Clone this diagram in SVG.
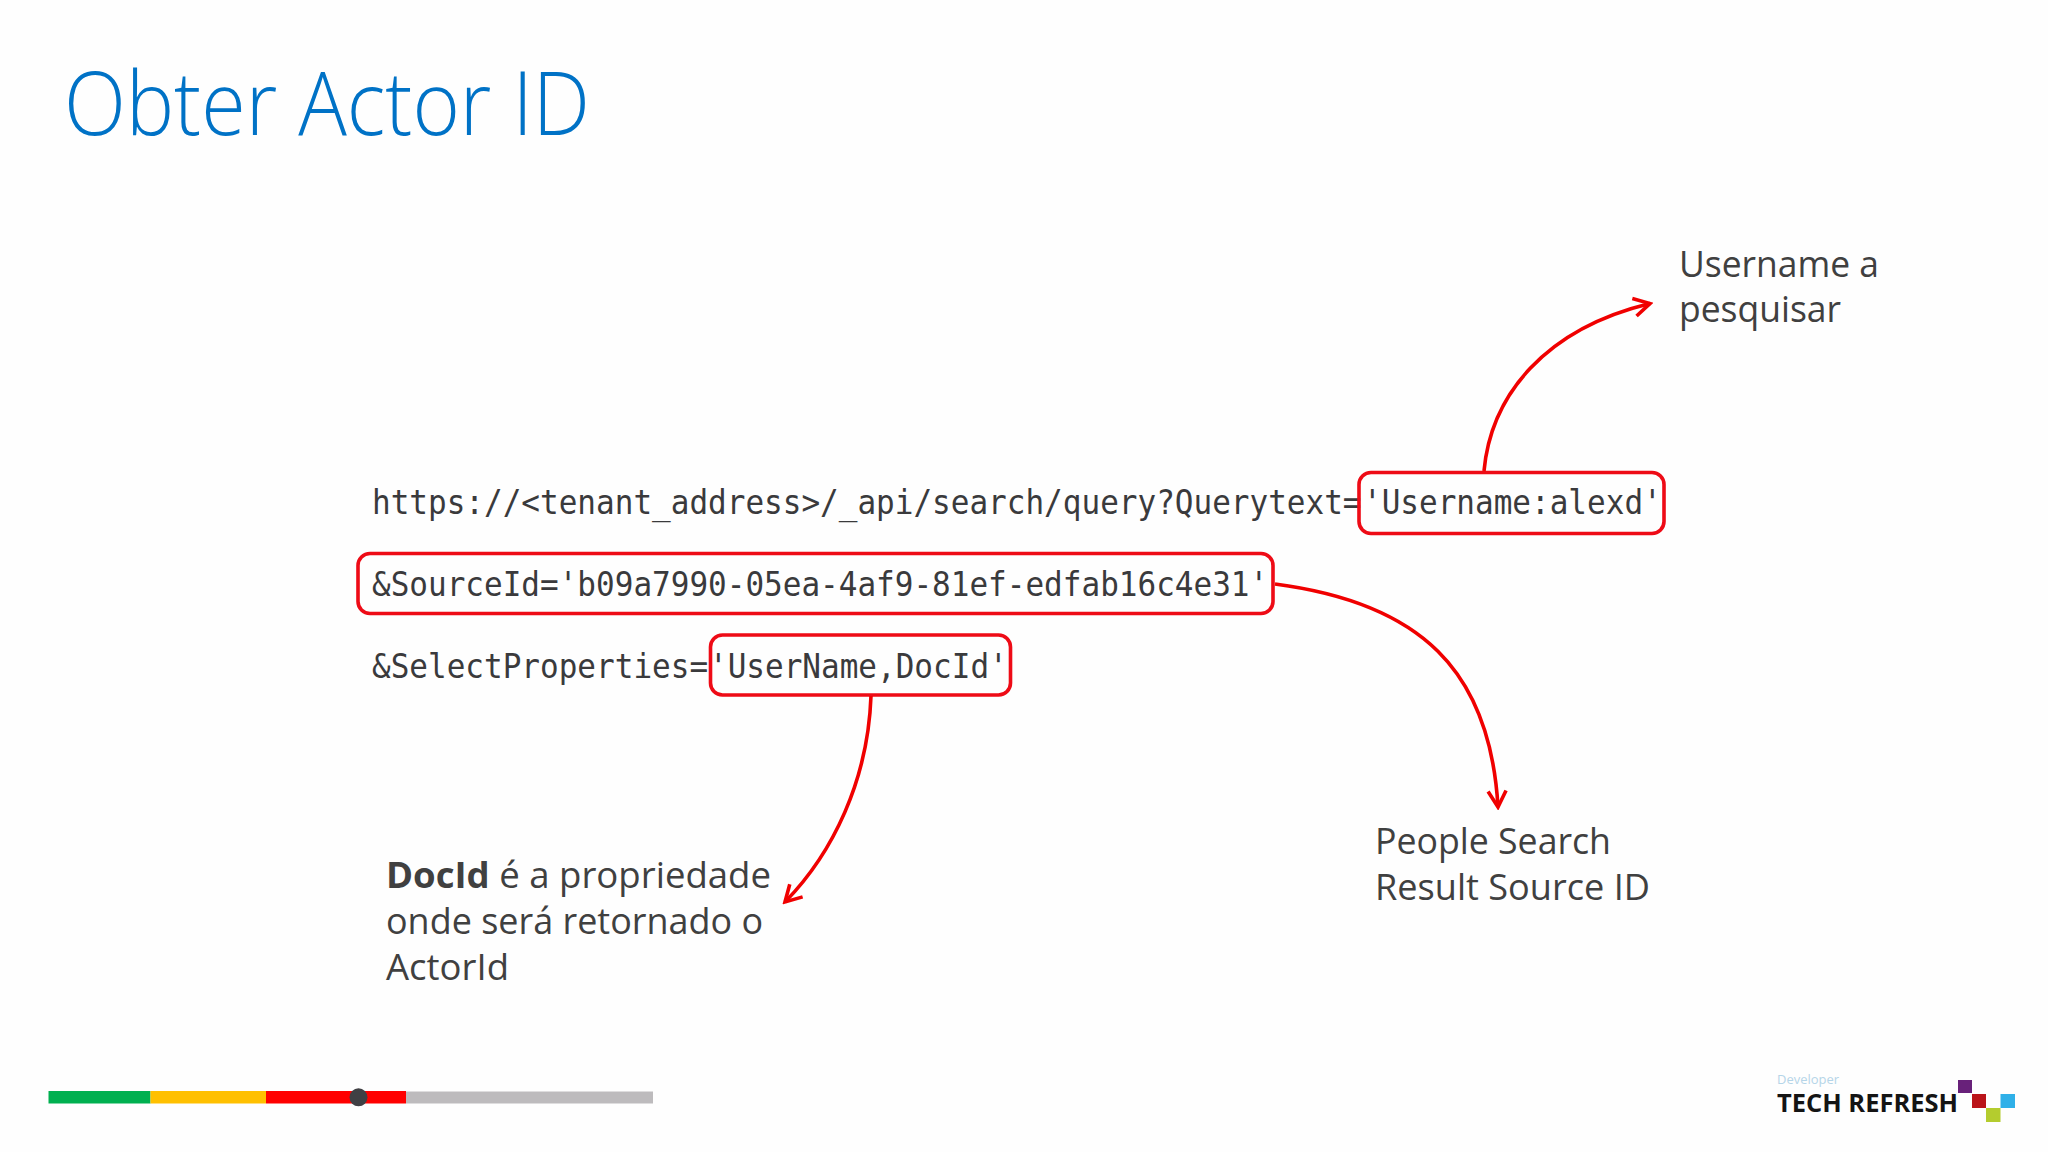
<svg xmlns="http://www.w3.org/2000/svg" width="2048" height="1152" viewBox="0 0 2048 1152">
<defs>
<marker id="arr" viewBox="0 0 24 24" refX="21" refY="12" markerWidth="24" markerHeight="24" markerUnits="userSpaceOnUse" orient="auto"><path d="M5 3 L21 12 L5 21" fill="none" stroke="#f00000" stroke-width="3.6"/></marker>
</defs>
<style>
.code{font-family:"DejaVu Sans Mono","Liberation Mono",monospace;font-size:33px;fill:#3a3a3c}
.body{font-family:"Open Sans","Noto Sans",sans-serif;font-size:36px;fill:#404040}
.box{fill:none;stroke:#ee0b16;stroke-width:3.6}
.con{fill:none;stroke:#f00000;stroke-width:3.6;marker-end:url(#arr)}
</style>
<rect width="2048" height="1152" fill="#fefefe"/>
<text id="title" x="64" y="135" font-family="Open Sans, Noto Sans, sans-serif" font-weight="300" font-size="88" fill="#0072c6" textLength="526" lengthAdjust="spacingAndGlyphs">Obter Actor ID</text>
<g id="url-line-1"><text class="code" transform="translate(372 514) scale(.94 1)">https://&lt;tenant_address&gt;/_api/search/query?Querytext=</text></g>
<g id="username-box"><rect class="box" x="1359" y="472.500" width="305" height="61" rx="12"/><text class="code" transform="translate(1363 514) scale(.94 1)">'Username:alexd'</text></g>
<g id="sourceid-box"><rect class="box" x="358" y="553.500" width="915" height="60" rx="12"/><text class="code" transform="translate(372 596) scale(.94 1)">&amp;SourceId='b09a7990-05ea-4af9-81ef-edfab16c4e31'</text></g>
<g id="select-line"><text class="code" transform="translate(372 678) scale(.94 1)">&amp;SelectProperties=</text></g>
<g id="docid-box"><rect class="box" x="710.500" y="635" width="300" height="60" rx="12"/><text class="code" transform="translate(709 678) scale(.94 1)">'UserName,DocId'</text></g>
<g id="connectors">
<path class="con" d="M1484 471 C1491 395 1545 329 1650 303.500"/>
<path class="con" d="M1275 584 C1420 603 1490 670 1498 807"/>
<path class="con" d="M871 696 C868 780 833 853 785 902"/>
</g>
<g id="note-username"><text class="body" x="1679" y="277" textLength="200" lengthAdjust="spacingAndGlyphs">Username a</text><text class="body" x="1679" y="322" textLength="162" lengthAdjust="spacingAndGlyphs">pesquisar</text></g>
<g id="note-source"><text class="body" x="1375" y="854" textLength="236" lengthAdjust="spacingAndGlyphs">People Search</text><text class="body" x="1375" y="900" textLength="275" lengthAdjust="spacingAndGlyphs">Result Source ID</text></g>
<g id="note-docid"><text class="body" x="386" y="888" textLength="385" lengthAdjust="spacingAndGlyphs"><tspan font-weight="700">DocId</tspan> é a propriedade</text><text class="body" x="386" y="934" textLength="377" lengthAdjust="spacingAndGlyphs">onde será retornado o</text><text class="body" x="386" y="980" textLength="123" lengthAdjust="spacingAndGlyphs">ActorId</text></g>
<g id="progress">
<rect x="48.500" y="1091" width="102" height="12.500" fill="#00b050"/>
<rect x="150.500" y="1091" width="115.500" height="12.500" fill="#ffc000"/>
<rect x="266" y="1091" width="140" height="12.500" fill="#ff0000"/>
<rect x="406" y="1091.500" width="247" height="12" fill="#bdbbbd"/>
<circle cx="358.500" cy="1097.300" r="9" fill="#404044"/>
</g>
<g id="logo">
<text x="1777" y="1084" font-family="Open Sans, sans-serif" font-size="13" fill="#b5d5e8" textLength="62" lengthAdjust="spacingAndGlyphs">Developer</text>
<text x="1777" y="1111.500" font-family="Open Sans, sans-serif" font-weight="700" font-size="25" fill="#141414" textLength="181" lengthAdjust="spacingAndGlyphs">TECH REFRESH</text>
<rect x="1958" y="1080" width="14" height="13" fill="#68217a"/>
<rect x="1972" y="1094" width="14" height="14" fill="#ba141a"/>
<rect x="1986" y="1108" width="14.500" height="14" fill="#b4cc2e"/>
<rect x="2000.500" y="1094" width="14.500" height="14" fill="#2fb0e8"/>
</g>
</svg>
